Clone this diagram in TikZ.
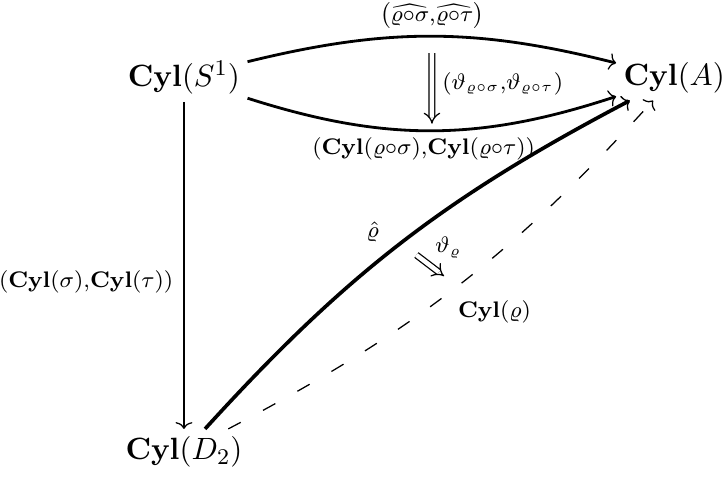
\documentclass[tikz,border=0pt]{standalone}
\usepackage{amsmath,amssymb}
\usetikzlibrary{arrows.meta, positioning}

\begin{document}
\begin{tikzpicture}[
    on grid,
    obj/.style={font=\fontsize{11.4}{14}\selectfont, inner sep=2.5pt},
    lbl/.style={font=\fontsize{7.7}{9.5}\selectfont, inner sep=2pt},
    arrow/.style={-{To[line width=0.45pt, length=2.4pt, width=6pt]}},
    cell/.style={-{Implies}, double, double distance=1.6pt, line width=0.45pt}
]
\useasboundingbox (0,0) rectangle (9.04,5.96);

% Objects
\node[obj] (s1) at (2.3,4.99) {$\mathbf{Cyl}(S^1)$};
\node[obj, right=6.13cm of s1] (a) {$\mathbf{Cyl}(A)$};
\node[obj, below=4.68cm of s1] (d2) {$\mathbf{Cyl}(D_2)$};

% Parallel pair on top
\draw[arrow, line width=1pt] (s1) to[bend left=14]
    node[above, lbl, inner sep=0.5pt, yshift=1.5pt] {$\bigl(\widehat{\varrho{\circ}\sigma}{,}\widehat{\varrho{\circ}\tau}\bigr)$}
    coordinate[pos=0.5] (top) (a);
\draw[arrow, line width=1pt] (s1) to[bend right=18]
    node[below, lbl, xshift=-3pt] {$(\mathbf{Cyl}(\varrho{\circ}\sigma){,}\mathbf{Cyl}(\varrho{\circ}\tau))$}
    coordinate[pos=0.5] (bot) (a);
\draw[cell, shorten <=6pt, shorten >=2.5pt] (top) --
    node[right, lbl, xshift=1.5pt] {$(\vartheta_{\varrho\circ\sigma}{,}\vartheta_{\varrho\circ\tau})$} (bot);

% Vertical map
\draw[arrow, line width=0.6pt] (s1) --
    node[left, lbl, pos=0.55, xshift=-1.5pt] {$(\mathbf{Cyl}(\sigma){,}\mathbf{Cyl}(\tau))$} (d2);

% Lower 2-cell
\draw[arrow, line width=1.3pt] (d2) to[bend left=10]
    node[pos=0.47, above left, lbl, inner sep=3pt] {$\hat{\varrho}$}
    coordinate[pos=0.5] (hat) (a);
\draw[arrow, line width=0.45pt, dash pattern=on 5pt off 9pt] (d2) to[bend right=10]
    node[pos=0.5, anchor=north west, lbl, inner sep=0pt, yshift=-5pt] {$\mathbf{Cyl}(\varrho)$}
    coordinate[pos=0.5] (cylr) (a);
\draw[cell, shorten <=7pt, shorten >=6pt] (hat) --
    node[above right, lbl] {$\vartheta_{\varrho}$} (cylr);

\end{tikzpicture}
\end{document}
